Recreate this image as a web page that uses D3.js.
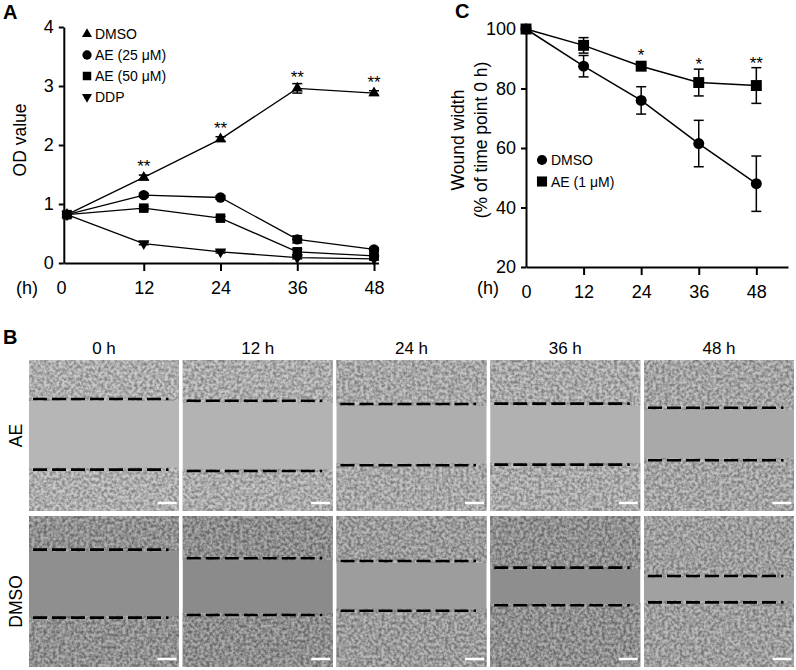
<!DOCTYPE html>
<html>
<head>
<meta charset="utf-8">
<script src="https://cdn.jsdelivr.net/npm/d3@7"></script>
<style>
body { margin: 0; background: #fff; }
svg text { font-family: Arial, "Liberation Sans", sans-serif; fill: #000; }
</style>
</head>
<body>
<svg id="fig" width="796" height="670"></svg>
<script>
// ---- panel A : OD value ----
var hours = [0, 12, 24, 36, 48];
var odDMSO = [0.82, 1.45, 2.10, 2.96, 2.88];
var odDMSOErr = [0.02, 0.04, 0.04, 0.08, 0.04];
var odAE25 = [0.82, 1.15, 1.11, 0.40, 0.23];
var odAE25Err = [0.02, 0.03, 0.03, 0.06, 0.03];
var odAE50 = [0.82, 0.93, 0.76, 0.19, 0.12];
var odAE50Err = [0.02, 0.03, 0.03, 0.05, 0.03];
var odDDP = [0.82, 0.33, 0.19, 0.09, 0.07];
var odDDPErr = [0.02, 0.02, 0.02, 0.02, 0.02];
var sigA = ['', '**', '**', '**', '**'];
var ticksA = [0, 1, 2, 3, 4];

// ---- panel C : wound width ----
var woundDMSO = [100, 87.5, 76, 61.5, 48];
var woundDMSOErr = [0, 3.6, 4.6, 7.8, 9.3];
var woundAE = [100, 94.5, 87.5, 82, 81];
var woundAEErr = [0, 2.6, 0.5, 4.5, 6];
var sigC = ['', '', '*', '*', '**'];
var ticksC = [20, 40, 60, 80, 100];

// ---- panel B : scratch fields ----
var timeLabels = ['0 h', '12 h', '24 h', '36 h', '48 h'];
var groups = ['AE', 'DMSO'];
// wound edges, % of field height from top (upper edge, lower edge)
var edgesAE = [[25.8, 72.6], [27.0, 73.5], [29.1, 69.7], [28.9, 69.3], [31.6, 66.4]];
var edgesDMSO = [[22.3, 67.3], [28.0, 65.6], [29.8, 62.7], [34.2, 59.1], [39.7, 57.2]];

var svg = d3.select('#fig');
var defs = svg.append('defs');

function styleAxis(g) {
  g.selectAll('path, line').attr('stroke', '#000').attr('stroke-width', 2);
  g.selectAll('text').attr('font-size', 18).attr('font-family', 'Arial, "Liberation Sans", sans-serif');
}

var downTriangle = {
  draw: function(ctx, size) {
    var h = Math.sqrt(size * 4 / Math.sqrt(3)) * Math.sqrt(3) / 2;
    var w = h * 2 / Math.sqrt(3);
    ctx.moveTo(-w / 2, -h / 3);
    ctx.lineTo(w / 2, -h / 3);
    ctx.lineTo(0, 2 * h / 3);
    ctx.closePath();
  }
};

function drawSeries(g, x, y, s, lineW) {
  var pts = hours.map(function(h, i) { return {h: h, v: s.values[i], e: s.err[i]}; });
  g.append('path')
    .datum(pts)
    .attr('fill', 'none')
    .attr('stroke', '#000')
    .attr('stroke-width', lineW)
    .attr('d', d3.line().x(function(d) { return x(d.h); }).y(function(d) { return y(d.v); }));
  var eb = g.append('g').selectAll('g').data(pts.filter(function(d) { return d.e > 0; }))
    .enter().append('g').attr('stroke', '#000').attr('stroke-width', 1.5);
  eb.append('line')
    .attr('x1', function(d) { return x(d.h); }).attr('x2', function(d) { return x(d.h); })
    .attr('y1', function(d) { return y(d.v - d.e); }).attr('y2', function(d) { return y(d.v + d.e); });
  eb.append('line')
    .attr('x1', function(d) { return x(d.h) - 5; }).attr('x2', function(d) { return x(d.h) + 5; })
    .attr('y1', function(d) { return y(d.v + d.e); }).attr('y2', function(d) { return y(d.v + d.e); });
  eb.append('line')
    .attr('x1', function(d) { return x(d.h) - 5; }).attr('x2', function(d) { return x(d.h) + 5; })
    .attr('y1', function(d) { return y(d.v - d.e); }).attr('y2', function(d) { return y(d.v - d.e); });
  g.append('g').selectAll('path').data(pts).enter().append('path')
    .attr('transform', function(d) { return 'translate(' + x(d.h) + ',' + y(d.v) + ')'; })
    .attr('d', d3.symbol().type(s.symbol).size(s.size))
    .attr('fill', '#000');
}

function drawStars(g, x, y, s, sig) {
  g.append('g').selectAll('text').data(hours).enter().append('text')
    .attr('x', function(h) { return x(h); })
    .attr('y', function(h, i) { return Math.min(y(s.values[i] + s.err[i]), y(s.values[i]) - 6) + 1; })
    .attr('text-anchor', 'middle')
    .attr('font-size', 17)
    .text(function(h, i) { return sig[i]; });
}

// ================= A =================
var xA = d3.scaleLinear().domain([-0.5, 48.7]).range([63.8, 378.5]);
var yA = d3.scaleLinear().domain([0, 4]).range([263, 27]);
var gA = svg.append('g');

var axA_x = gA.append('g').attr('transform', 'translate(0,' + yA(0) + ')')
  .call(d3.axisBottom(xA).tickValues(hours).tickSize(8).tickPadding(10).tickSizeOuter(0));
styleAxis(axA_x);
axA_x.selectAll('.tick').filter(function(d) { return d === 0; }).select('line').remove();
axA_x.selectAll('.tick').filter(function(d) { return d === 0; }).select('text').attr('x', -6);

var axA_y = gA.append('g').attr('transform', 'translate(' + xA(-0.5) + ',0)')
  .call(d3.axisLeft(yA).tickValues(ticksA).tickFormat(d3.format('d')).tickSize(5).tickPadding(5).tickSizeOuter(0));
styleAxis(axA_y);

gA.append('text').attr('x', 27).attr('y', 294).attr('text-anchor', 'middle').attr('font-size', 18).text('(h)');
gA.append('text').attr('transform', 'translate(26,140) rotate(-90)').attr('text-anchor', 'middle')
  .attr('font-size', 17.5).text('OD value');
gA.append('text').attr('x', 3).attr('y', 19).attr('font-size', 20).attr('font-weight', 'bold').text('A');

var seriesA = [
  {name: 'DMSO', values: odDMSO, err: odDMSOErr, symbol: d3.symbolTriangle, size: 55},
  {name: 'AE (25 \u03bcM)', values: odAE25, err: odAE25Err, symbol: d3.symbolCircle, size: 85},
  {name: 'AE (50 \u03bcM)', values: odAE50, err: odAE50Err, symbol: d3.symbolSquare, size: 90},
  {name: 'DDP', values: odDDP, err: odDDPErr, symbol: downTriangle, size: 55}
];
seriesA.slice().reverse().forEach(function(s) { drawSeries(gA, xA, yA, s, 1.3); });
drawStars(gA, xA, yA, seriesA[0], sigA);

var legA = gA.append('g').selectAll('g').data(seriesA).enter().append('g')
  .attr('transform', function(d, i) { return 'translate(87,' + (34 + 21 * i) + ')'; });
legA.append('path').attr('d', function(d) { return d3.symbol().type(d.symbol).size(d.size * 0.8)(); }).attr('fill', '#000');
legA.append('text').attr('x', 8).attr('dy', '0.36em').attr('font-size', 14).text(function(d) { return d.name; });

// ================= C =================
var xC = d3.scaleLinear().domain([0, 54.6]).range([526, 788]);
var yC = d3.scaleLinear().domain([20, 100]).range([267, 29]);
var gC = svg.append('g');

var axC_x = gC.append('g').attr('transform', 'translate(0,' + yC(20) + ')')
  .call(d3.axisBottom(xC).tickValues(hours).tickSize(8).tickPadding(10).tickSizeOuter(0));
styleAxis(axC_x);
axC_x.selectAll('.tick').filter(function(d) { return d === 0; }).select('line').remove();

var axC_y = gC.append('g').attr('transform', 'translate(' + xC(0) + ',0)')
  .call(d3.axisLeft(yC).tickValues(ticksC).tickSize(5).tickPadding(5).tickSizeOuter(0));
styleAxis(axC_y);

gC.append('text').attr('x', 488).attr('y', 294).attr('text-anchor', 'middle').attr('font-size', 18).text('(h)');
gC.append('text').attr('transform', 'translate(464,140) rotate(-90)').attr('text-anchor', 'middle')
  .attr('font-size', 17.5).text('Wound width');
gC.append('text').attr('transform', 'translate(487,140) rotate(-90)').attr('text-anchor', 'middle')
  .attr('font-size', 17.5).text('(% of time point 0 h)');
gC.append('text').attr('x', 455).attr('y', 18).attr('font-size', 20).attr('font-weight', 'bold').text('C');

var seriesC = [
  {name: 'DMSO', values: woundDMSO, err: woundDMSOErr, symbol: d3.symbolCircle, size: 95},
  {name: 'AE (1 \u03bcM)', values: woundAE, err: woundAEErr, symbol: d3.symbolSquare, size: 120}
];
seriesC.forEach(function(s) { drawSeries(gC, xC, yC, s, 1.5); });
drawStars(gC, xC, yC, seriesC[1], sigC);

var legC = gC.append('g').selectAll('g').data(seriesC).enter().append('g')
  .attr('transform', function(d, i) { return 'translate(542,' + (160 + 21.5 * i) + ')'; });
legC.append('path').attr('d', function(d) { return d3.symbol().type(d.symbol).size(d.size * 0.85)(); }).attr('fill', '#000');
legC.append('text').attr('x', 9).attr('dy', '0.36em').attr('font-size', 14).text(function(d) { return d.name; });

// ================= B =================
var shade = [['#b6b6b6', '#b3b3b3', '#aeaeae', '#b1b1b1', '#a9a9a9'],
             ['#8f8f8f', '#8b8b8b', '#9d9d9d', '#8e8e8e', '#a1a1a1']];
var labelNudge = [0, 10];

var xB = d3.scaleBand().domain(timeLabels).range([29, 794]).paddingInner(0.0244);
var yB = d3.scaleBand().domain(groups).range([360, 667]).paddingInner(0.032);
var gB = svg.append('g');

gB.append('text').attr('x', 3).attr('y', 344).attr('font-size', 20).attr('font-weight', 'bold').text('B');
gB.append('g').selectAll('text').data(timeLabels).enter().append('text')
  .attr('x', function(d) { return xB(d) + xB.bandwidth() / 2; })
  .attr('y', 354)
  .attr('text-anchor', 'middle')
  .attr('font-size', 17)
  .text(function(d) { return d; });
gB.append('g').selectAll('text').data(groups).enter().append('text')
  .attr('transform', function(d, i) { return 'translate(22,' + (yB(d) + yB.bandwidth() / 2 + labelNudge[i]) + ') rotate(-90)'; })
  .attr('text-anchor', 'middle')
  .attr('font-size', 17.5)
  .text(function(d) { return d; });

var edges = [edgesAE, edgesDMSO];
var tiles = [];
groups.forEach(function(gr, r) {
  timeLabels.forEach(function(t, c) {
    tiles.push({row: r, col: c, group: gr, time: t, edge: edges[r][c], fill: shade[r][c]});
  });
});

// soft speckle standing in for the cell layer
tiles.forEach(function(d, i) {
  var f = defs.append('filter').attr('id', 'cells' + i)
    .attr('x', 0).attr('y', 0).attr('width', 1).attr('height', 1)
    .attr('color-interpolation-filters', 'sRGB');
  f.append('feTurbulence').attr('type', 'fractalNoise').attr('baseFrequency', 0.33)
    .attr('numOctaves', 2).attr('seed', 7 + i * 13).attr('result', 'n');
  f.append('feColorMatrix').attr('in', 'n').attr('type', 'matrix')
    .attr('values', '2.2 0 0 0 -0.52  2.2 0 0 0 -0.52  2.2 0 0 0 -0.52  0 0 0 0 0.28')
    .attr('result', 'g');
  f.append('feComposite').attr('in', 'g').attr('in2', 'SourceGraphic').attr('operator', 'in').attr('result', 'gc');
  var m = f.append('feMerge');
  m.append('feMergeNode').attr('in', 'SourceGraphic');
  m.append('feMergeNode').attr('in', 'gc');
});

var tile = gB.append('g').selectAll('g').data(tiles).enter().append('g')
  .attr('transform', function(d) { return 'translate(' + xB(d.time) + ',' + yB(d.group) + ')'; });

var w = xB.bandwidth(), h = yB.bandwidth();
var yField = d3.scaleLinear().domain([0, 100]).range([0, h]);

tile.append('rect').attr('width', w).attr('height', h).attr('fill', function(d) { return d.fill; });
tile.append('rect').attr('width', w)
  .attr('height', function(d) { return yField(d.edge[0]) + 2; })
  .attr('fill', function(d) { return d.fill; })
  .attr('filter', function(d, i) { return 'url(#cells' + i + ')'; });
tile.append('rect').attr('width', w)
  .attr('y', function(d) { return yField(d.edge[1]) - 2; })
  .attr('height', function(d) { return h - yField(d.edge[1]) + 2; })
  .attr('fill', function(d) { return d.fill; })
  .attr('filter', function(d, i) { return 'url(#cells' + i + ')'; });

[0, 1].forEach(function(k) {
  tile.append('line')
    .attr('x1', 4).attr('x2', w - 10.5)
    .attr('y1', function(d) { return yField(d.edge[k]); })
    .attr('y2', function(d) { return yField(d.edge[k]); })
    .attr('stroke', '#000').attr('stroke-width', 2.6)
    .attr('stroke-dasharray', '14 5');
});

// scale bars
tile.append('line')
  .attr('x1', w - 21.5).attr('x2', w - 2.5)
  .attr('y1', h - 8).attr('y2', h - 8)
  .attr('stroke', '#fff').attr('stroke-width', 2.5);
</script>
</body>
</html>
